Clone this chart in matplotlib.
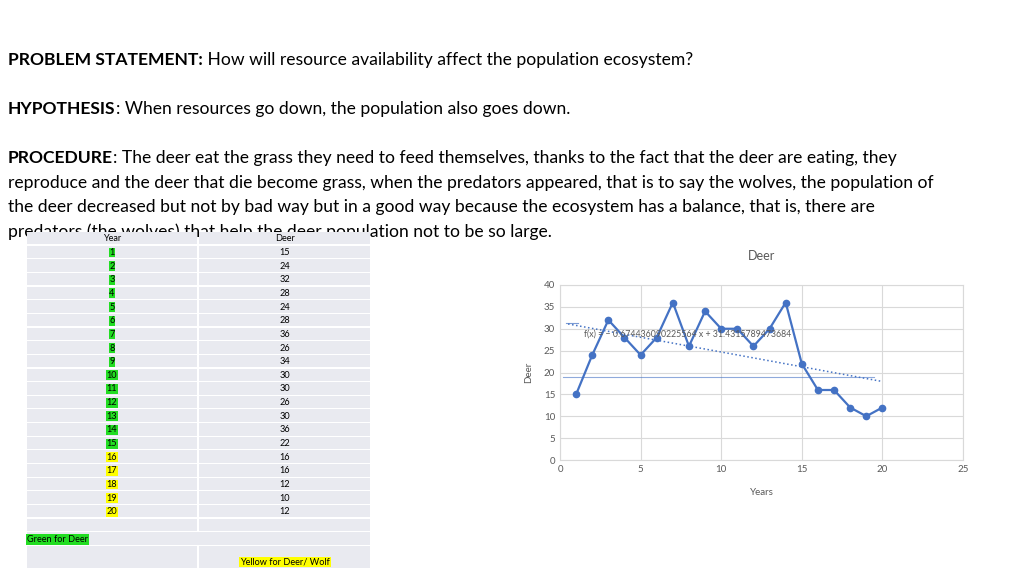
import matplotlib
matplotlib.use("Agg")
import matplotlib.pyplot as plt
from matplotlib.patches import Rectangle
import numpy as np

plt.rcParams['font.family'] = ['Lato', 'DejaVu Sans']

years = list(range(1, 21))
deer = [15, 24, 32, 28, 24, 28, 36, 26, 34, 30, 30, 26, 30, 36, 22, 16, 16, 12, 10, 12]
slope = -0.674436090225564
intercept = 31.4315789473684
trend_label = "f(x) = − 0.674436090225564 x + 31.4315789473684"

fig = plt.figure(figsize=(10.24, 5.75), dpi=100)
bg = fig.add_axes([0, 0, 1, 1])
bg.set_xlim(0, 1024); bg.set_ylim(575, 0); bg.axis('off')

# text block
fs = 12.6
def pair(y, bold, rest):
    t = bg.text(8, y, bold, fontweight='bold', fontsize=fs, va='baseline')
    bg.annotate(rest, xy=(1, 0), xycoords=t, va='bottom', fontsize=fs)
pair(65, "PROBLEM STATEMENT:", " How will resource availability affect the population ecosystem?")
pair(114, "HYPOTHESIS", ": When resources go down, the population also goes down.")
pair(163, "PROCEDURE", ": The deer eat the grass they need to feed themselves, thanks to the fact that the deer are eating, they")
bg.text(8, 188, "reproduce and the deer that die become grass, when the predators appeared, that is to say the wolves, the population of", fontsize=fs, va='baseline')
bg.text(8, 212, "the deer decreased but not by bad way but in a good way because the ecosystem has a balance, that is, there are", fontsize=fs, va='baseline')
bg.text(8, 237, "predators (the wolves) that help the deer population not to be so large.", fontsize=fs, va='baseline', zorder=0.5)

# table
tx0, tmid, tx1 = 27, 198, 370
top = 232; rh = 13.65
rows = ["Year"] + [str(y) for y in years]
vals = ["Deer"] + [str(d) for d in deer]
cell = '#e9eaf0'
tfs = 6.6
for i in range(len(rows)):
    y0 = top + i * rh
    bg.add_patch(Rectangle((tx0, y0), tmid - tx0 - 1, rh - 1.2, color=cell, lw=0))
    bg.add_patch(Rectangle((tmid + 1, y0), tx1 - tmid - 1, rh - 1.2, color=cell, lw=0))
    yc = y0 + rh / 2
    if i == 0:
        bg.text(112, yc, rows[i], ha='center', va='center', fontsize=tfs)
    else:
        c = '#22dd22' if years[i - 1] <= 15 else '#ffff00'
        bg.text(112, yc, rows[i], ha='center', va='center', fontsize=tfs,
                bbox=dict(boxstyle='square,pad=0.05', fc=c, ec='none'))
    bg.text(285, yc, vals[i], ha='center', va='center', fontsize=tfs)
y0 = top + 21 * rh
bg.add_patch(Rectangle((tx0, y0), tmid - tx0 - 1, rh - 1.2, color=cell, lw=0))
bg.add_patch(Rectangle((tmid + 1, y0), tx1 - tmid - 1, rh - 1.2, color=cell, lw=0))
y0 += rh
bg.add_patch(Rectangle((tx0, y0), tx1 - tx0, rh - 1.2, color=cell, lw=0))
bg.text(tx0, y0 + rh / 2, "Green for Deer", ha='left', va='center', fontsize=tfs,
        bbox=dict(boxstyle='square,pad=0.1', fc='#22dd22', ec='none'))
y0 += rh
bg.add_patch(Rectangle((tx0, y0), tmid - tx0 - 1, 568 - y0, color=cell, lw=0))
bg.add_patch(Rectangle((tmid + 1, y0), tx1 - tmid - 1, 568 - y0, color=cell, lw=0))
bg.text(285, 562, "Yellow for Deer/ Wolf", ha='center', va='center', fontsize=tfs,
        bbox=dict(boxstyle='square,pad=0.1', fc='#ffff00', ec='none'))

# chart
ax = fig.add_axes([560/1024, 115/575, 403/1024, 175/575])
ax.set_xlim(0, 25); ax.set_ylim(0, 40)
ax.set_xticks(range(0, 26, 5)); ax.set_yticks(range(0, 41, 5))
ax.grid(True, color='#d9d9d9', lw=0.8)
for s in ax.spines.values():
    s.set_color('#d9d9d9')
ax.tick_params(length=0, labelsize=7, colors='#595959')
ax.set_axisbelow(True)
ax.axhline(18.9, xmin=0.2/25, xmax=19.5/25, color='#4472c4', lw=0.8, alpha=0.6)
xt = np.array([0.5, 20])
ax.plot(xt, slope * xt + intercept, ls=':', color='#4472c4', lw=1.1)
ax.plot([0.4, 1.1], [31.3, 31.3], color='#4472c4', lw=0.8, alpha=0.7)
ax.plot(years, deer, color='#4472c4', lw=1.6, marker='o', ms=4.5)
ax.text(1.5, 28.8, trend_label, fontsize=6.3, color='#595959', va='center')
ax.set_title("Deer", fontsize=9, color='#595959', pad=18)
ax.set_xlabel("Years", fontsize=7, color='#595959', labelpad=10)
ax.set_ylabel("Deer", fontsize=7, color='#595959', labelpad=8)

fig.savefig("out.png", dpi=100)
